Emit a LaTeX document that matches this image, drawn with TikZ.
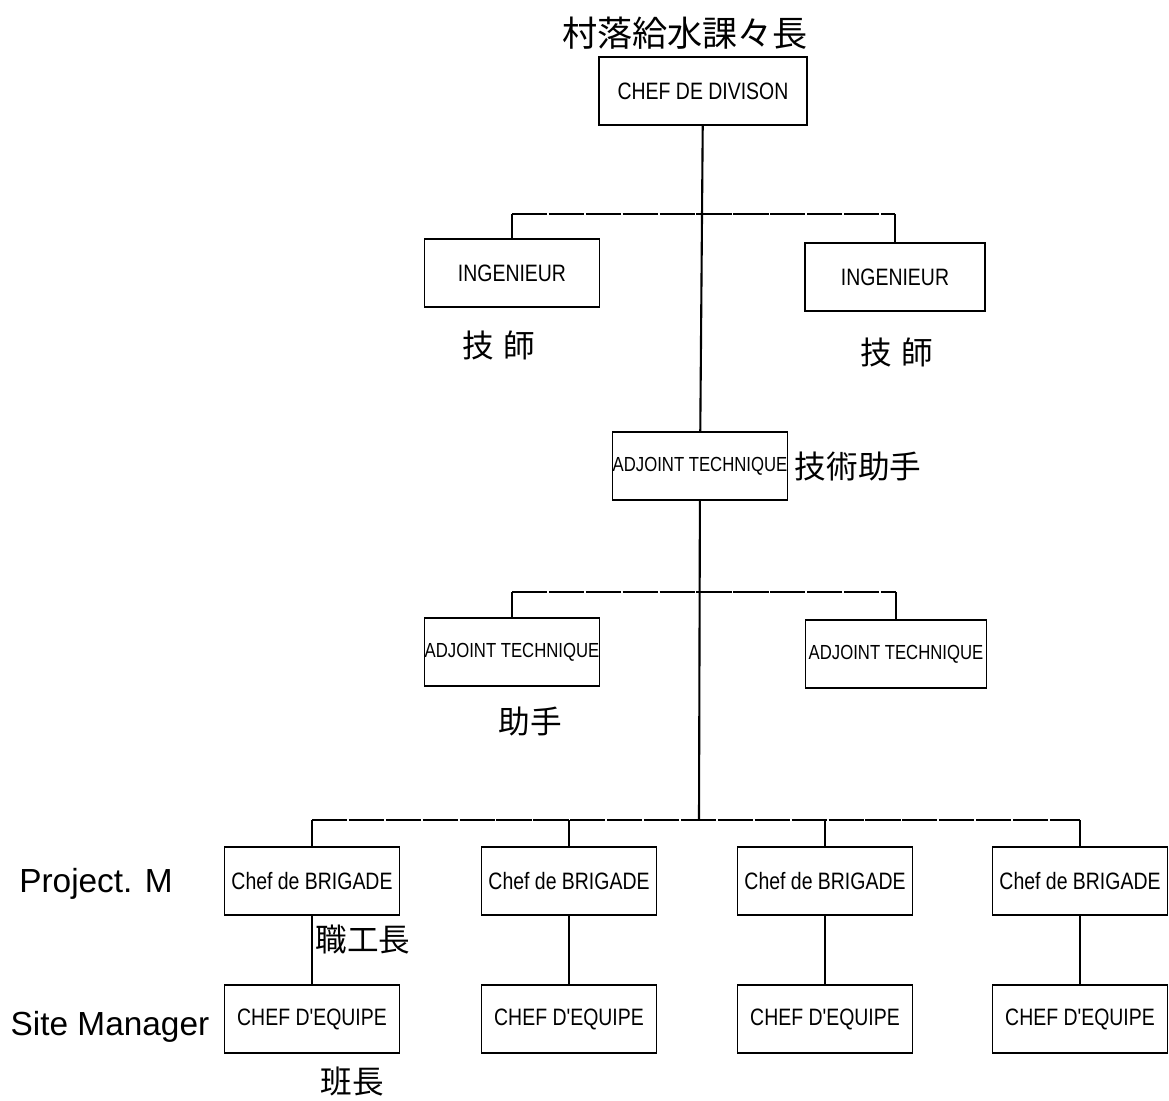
\documentclass[tikz,border=0pt]{standalone}
\usepackage{fontspec}
\setmainfont{Liberation Sans}
\newfontfamily\boxfont[FakeStretch=0.82]{Liberation Sans}
\newfontfamily\cjk{Noto Sans CJK JP}

\tikzset{
    post/.style={draw, line width=1.1pt, minimum width=3.5cm, minimum height=1.36cm,
        inner sep=1pt, font=\boxfont\fontsize{13.5}{15}\selectfont},
    adjpost/.style={post, inner sep=0pt, font=\boxfont\fontsize{11.6}{13}\selectfont},
    jp/.style={font=\cjk\fontsize{18}{21}\selectfont},
    jptitle/.style={font=\cjk\fontsize{20}{24}\selectfont},
    hand/.style={font=\fontsize{19}{23}\selectfont},
    branch/.style={line width=0.8pt, dash pattern=on 20pt off 1pt},
    trunk/.style={line width=1.2pt}
}

\begin{document}
\begin{tikzpicture}[x=0.02cm, y=-0.02cm]
    \useasboundingbox (0,0) rectangle (1169,1101);

    % head of division
    \node[jptitle] (title) at (685,33) {村落給水課々長};
    \node[post, minimum width=4.16cm] (div) at (703,91) {CHEF DE DIVISON};

    % engineers
    \coordinate (h1L) at (512,214);
    \coordinate (h1R) at (895,214);
    \node[post] (ingL) at (512,273) {INGENIEUR};
    \node[post, minimum width=3.6cm] (ingR) at (895,277) {INGENIEUR};
    \node[jp] (ingLlab) at (499,345) {技\hspace{0.3em}師};
    \node[jp] (ingRlab) at (897,352) {技\hspace{0.3em}師};

    \draw[branch] (h1L) -- (h1R);
    \draw[line width=0.8pt] (h1L) -- (ingL);
    \draw[branch] (h1R) -- (ingR);

    % technical assistant
    \node[adjpost] (adjc) at (700,466) {ADJOINT TECHNIQUE};
    \node[jp] (adjclab) at (858,467) {技術助手};

    \coordinate (h2L) at (512,592);
    \coordinate (h2R) at (896,592);
    \node[adjpost] (adjL) at (512,652) {ADJOINT TECHNIQUE};
    \node[adjpost, minimum width=3.62cm] (adjR) at (896,654) {ADJOINT TECHNIQUE};
    \node[jp] (adjLlab) at (530,722) {助手};

    \draw[branch] (h2L) -- (h2R);
    \draw[line width=0.8pt] (h2L) -- (adjL);
    \draw[line width=0.8pt] (h2R) -- (adjR);

    % trunk
    \coordinate (j3) at (699,820);
    \draw[trunk] (div) -- (adjc);
    \draw[trunk] (adjc) -- (j3);

    % brigades and teams
    \foreach \x [count=\i] in {312,569,825,1080}
    {
        \coordinate (top\i) at (\x,820);
        \node[post] (brig\i) at (\x,881) {Chef de BRIGADE};
        \node[post] (equi\i) at (\x,1019) {CHEF D'EQUIPE};
        \draw[line width=0.8pt] (top\i) -- (brig\i);
        \draw[line width=0.8pt] (brig\i) -- (equi\i);
    }
    \draw[branch] (top1) -- (top4);

    \node[jp] (briglab) at (363,940) {職工長};
    \node[jp] (equilab) at (352,1082) {班長};

    % hand notes
    \node[hand] (pm) at (96,884) {Project. M};
    \node[hand] (sm) at (110,1027) {Site Manager};

\end{tikzpicture}
\end{document}
